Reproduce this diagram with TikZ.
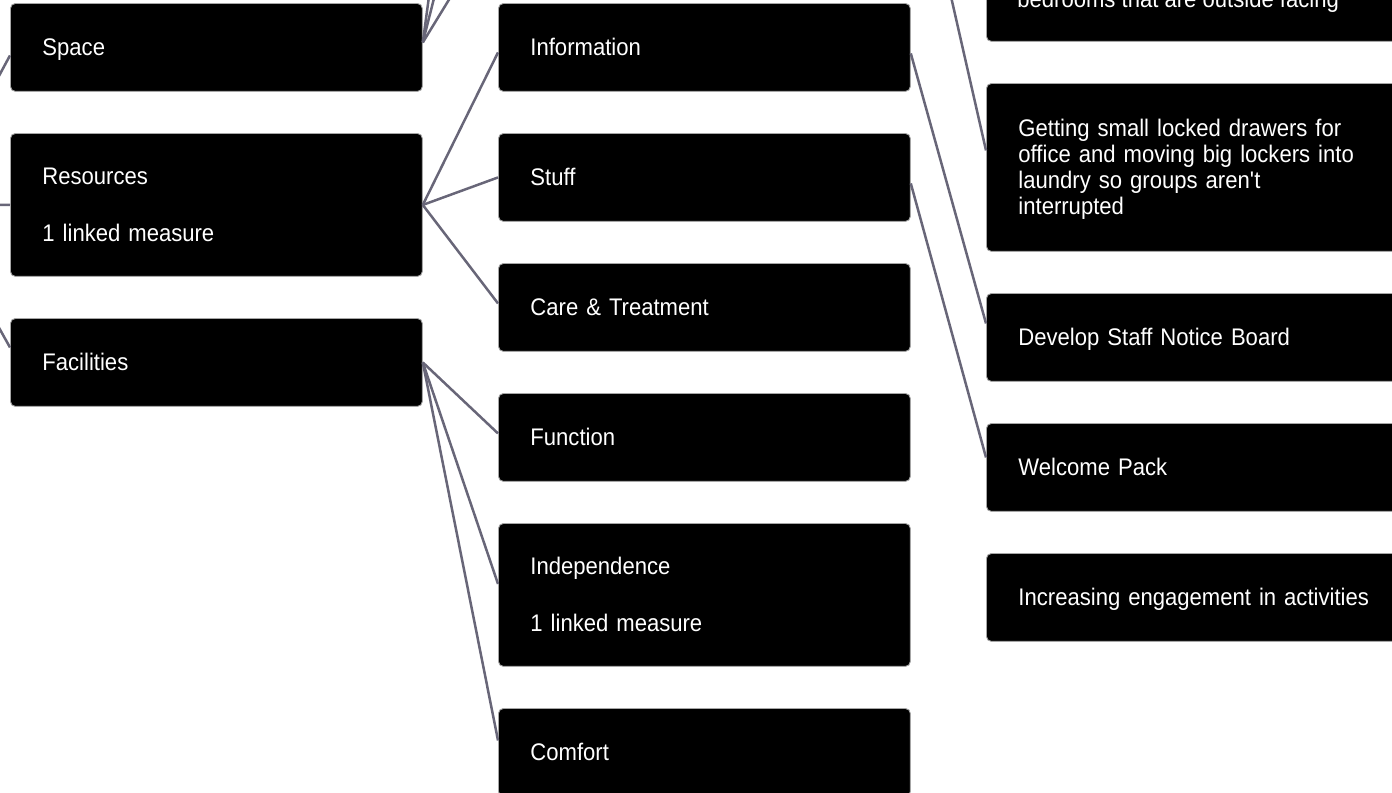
\documentclass[tikz,border=0pt]{standalone}
\usepackage{fontspec}
\setmainfont{Liberation Sans}[FakeStretch=0.92]
\definecolor{connc}{RGB}{104,102,120}
\newcommand{\tsp}{\rule{0pt}{14.5pt}}
\newcommand{\bsp}{\rule[-5.5pt]{0pt}{5.5pt}}
\begin{document}
\begin{tikzpicture}[x=0.02cm,y=-0.02cm,
  box/.style={fill=black, draw=gray!70, line width=0.5pt, rounded corners=0.1cm,
    text=white, anchor=north west, inner xsep=0.64cm, inner ysep=0pt,
    text width=6.96cm, align=left, minimum height=1.76cm,
    font=\fontsize{13.66pt}{14.8pt}\selectfont},
  widebox/.style={box, text width=7.3cm},
  tallbox/.style={minimum height=2.86cm},
  xtallbox/.style={minimum height=3.36cm},
  lbltext/.style={text=white, inner sep=0pt, font=\fontsize{13.66pt}{14.8pt}\selectfont},
  conn/.style={draw=connc, line width=0.05cm}]
\useasboundingbox (0,0) rectangle (1392,792);
\clip (0,0) rectangle (1392,792);

% column 1
\node[box] (space) at (10,3) {\tsp Space\bsp};
\node[box, tallbox] (res) at (10,133) {\tsp Resources\\[0.62cm]1 linked measure\bsp};
\node[box] (fac) at (10,318) {\tsp Facilities\bsp};

% column 2
\node[box] (info) at (498,3) {\tsp Information\bsp};
\node[box] (stuff) at (498,133) {\tsp Stuff\bsp};
\node[box] (care) at (498,263) {\tsp Care \& Treatment\bsp};
\node[box] (func) at (498,393) {\tsp Function\bsp};
\node[box, tallbox] (indep) at (498,523) {\tsp Independence\\[0.62cm]1 linked measure\bsp};
\node[box] (comf) at (498,708) {\tsp Comfort\bsp};

% column 3
\node[widebox, xtallbox] (bed) at (986,-127) {};
\node[lbltext, anchor=base west] (bedtxt) at (1017,7) {bedrooms that are outside facing};
\node[widebox, xtallbox] (getting) at (986,83) {\tsp Getting small locked drawers for\\office and moving big lockers into\\laundry so groups aren\textquotesingle t\\interrupted\bsp};
\node[widebox] (develop) at (986,293) {\tsp Develop Staff Notice Board\bsp};
\node[widebox] (welcome) at (986,423) {\tsp Welcome Pack\bsp};
\node[widebox] (incr) at (986,553) {\tsp Increasing engagement in activities\bsp};

% off-canvas ends
\coordinate (root) at (-70,204);
\coordinate (sa) at (442,-100);
\coordinate (sb) at (459,-100);
\coordinate (sc) at (510,-100);
\coordinate (g0) at (929,-100);

% connectors
\draw[conn] (root) -- ([yshift=-0.16cm]space.west);
\draw[conn] (root) -- (res.west);
\draw[conn] (root) -- ([yshift=0.3cm]fac.west);

\draw[conn] ([yshift=0.1cm]space.east) -- (sa);
\draw[conn] ([yshift=0.1cm]space.east) -- (sb);
\draw[conn] ([yshift=0.1cm]space.east) -- (sc);

\draw[conn] (res.east) -- ([yshift=-0.1cm]info.west);
\draw[conn] (res.east) -- (stuff.west);
\draw[conn] (res.east) -- ([yshift=0.08cm]care.west);

\draw[conn] (fac.east) -- ([yshift=0.08cm]func.west);
\draw[conn] (fac.east) -- ([yshift=0.22cm]indep.west);
\draw[conn] (fac.east) -- ([yshift=0.24cm]comf.west);

\draw[conn] ([yshift=-0.12cm]info.east) -- ([yshift=0.28cm]develop.west);
\draw[conn] ([yshift=-0.12cm]stuff.east) -- ([yshift=0.2cm]welcome.west);
\draw[conn] (g0) -- ([yshift=0.34cm]getting.west);
\end{tikzpicture}
\end{document}
